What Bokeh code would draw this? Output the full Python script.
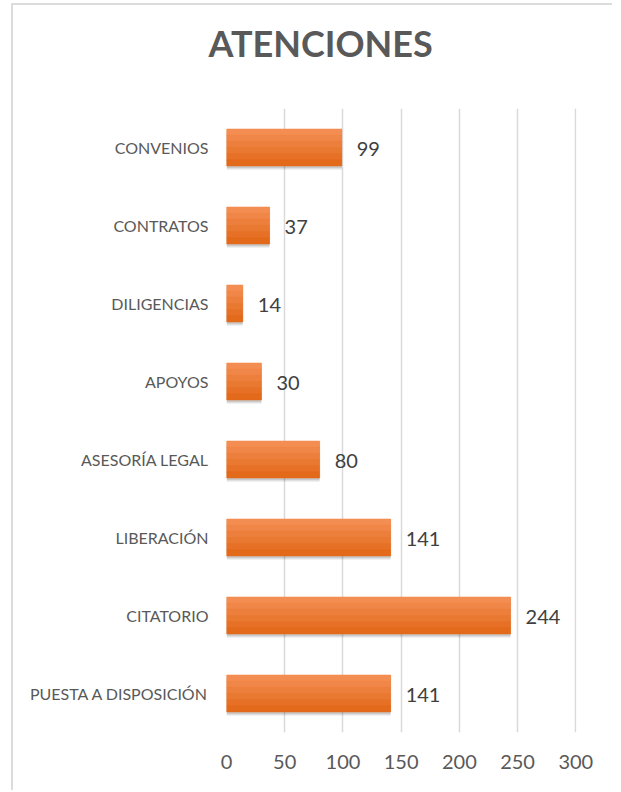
from bokeh.plotting import figure
from bokeh.models import ColumnDataSource, FactorRange, FixedTicker, LabelSet
from bokeh.transform import dodge
from bokeh.core.properties import value
from bokeh.embed import file_html
from bokeh.resources import INLINE

# Data (bottom to top)
categories = ["PUESTA A DISPOSICIÓN", "CITATORIO", "LIBERACIÓN", "ASESORÍA LEGAL",
              "APOYOS", "DILIGENCIAS", "CONTRATOS", "CONVENIOS"]
values = [141, 244, 141, 80, 30, 14, 37, 99]
x_ticks = [0, 50, 100, 150, 200, 250, 300]
title_text = "ATENCIONES"

src = ColumnDataSource(dict(cat=categories, val=values, lab=[str(v) for v in values]))

p = figure(width=601, height=787, output_backend="svg", toolbar_location=None,
           y_range=FactorRange(*categories, range_padding=0), x_range=(0, 300.6),
           min_border_left=213, min_border_right=38, min_border_top=103, min_border_bottom=60)
p.styles = {"border-left": "2px solid #dcdcdc", "border-top": "2px solid #dcdcdc",
            "margin-left": "11px", "margin-top": "3px"}
p.title.text = title_text + "\n"
p.title.align = "left"
p.title.offset = -18
p.title.standoff = 0
p.title.text_font = "Lato"
p.title.text_font_style = "bold"
p.title.text_font_size = "36px"
p.title.text_color = "#595959"
p.outline_line_color = None

FONT = "Lato"
BAR_H = 0.475

# shadow
p.hbar(y=dodge("cat", -0.045, range=p.y_range), right="val", left=0, height=BAR_H, source=src,
       fill_color="#000000", fill_alpha=0.12, line_color=None)
p.hbar(y=dodge("cat", -0.025, range=p.y_range), right="val", left=0, height=BAR_H, source=src,
       fill_color="#000000", fill_alpha=0.10, line_color=None)

# base bar + gradient strips
p.hbar(y="cat", right="val", left=0, height=BAR_H, source=src,
       fill_color="#ec7a2c", line_color=None)
top_c = (0xF3, 0x8D, 0x52)
bot_c = (0xE3, 0x6A, 0x1B)
n = 6
for i in range(n):
    t = i / (n - 1)
    c = tuple(int(round(top_c[k] + (bot_c[k] - top_c[k]) * t)) for k in range(3))
    col = "#%02x%02x%02x" % c
    h = BAR_H / n
    off = BAR_H / 2 - h / 2 - i * h
    p.hbar(y=dodge("cat", off, range=p.y_range), right="val", left=0, height=h, source=src,
           fill_color=col, line_color=col, line_width=0.5)

labels = LabelSet(x="val", y=dodge("cat", -0.02, range=p.y_range), text="lab", source=src,
                  x_offset=15, text_baseline="middle", text_align="left",
                  text_font=value(FONT), text_font_size="20px", text_color="#404040")
p.add_layout(labels)

p.xaxis.ticker = FixedTicker(ticks=x_ticks)
p.xaxis.axis_line_color = None
p.xaxis.major_tick_line_color = None
p.xaxis.minor_tick_line_color = None
p.xaxis.major_tick_out = 0
p.xaxis.major_tick_in = 0
p.xaxis.major_label_text_font = FONT
p.xaxis.major_label_text_font_size = "20px"
p.xaxis.major_label_text_color = "#595959"
p.xaxis.major_label_standoff = 22

p.yaxis.axis_line_color = None
p.yaxis.major_tick_line_color = None
p.yaxis.minor_tick_line_color = None
p.yaxis.major_tick_out = 0
p.yaxis.major_tick_in = 0
p.yaxis.major_label_text_font = FONT
p.yaxis.major_label_text_font_size = "16px"
p.yaxis.major_label_text_color = "#595959"
p.yaxis.major_label_standoff = 18

p.xgrid.ticker = FixedTicker(ticks=x_ticks)
p.xgrid.grid_line_color = "#d9d9d9"
p.xgrid.grid_line_width = 1.5
p.ygrid.grid_line_color = None

open("out.html", "w").write(file_html(p, INLINE))
